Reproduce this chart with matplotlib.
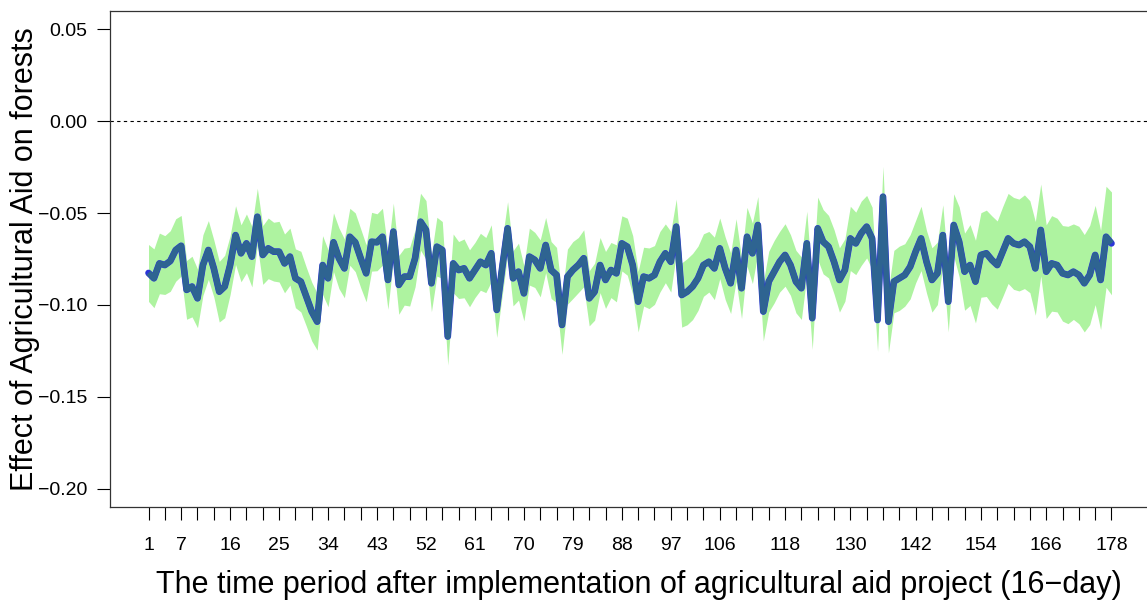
import matplotlib.pyplot as plt
import numpy as np

plt.rcParams['font.family'] = ['Liberation Sans', 'DejaVu Sans']

# 16-day periods after the project started
period = np.arange(1, 179)

# estimated effect
effect = [
    -0.0826, -0.0855, -0.0774, -0.0783, -0.0761, -0.0701, -0.0678, -0.0918, -0.0900, -0.0964,
    -0.0783, -0.0701, -0.0801, -0.0928, -0.0900, -0.0783, -0.0620, -0.0719, -0.0665, -0.0737,
    -0.0520, -0.0728, -0.0692, -0.0710, -0.0710, -0.0774, -0.0737, -0.0855, -0.0873, -0.0955,
    -0.1036, -0.1091, -0.0783, -0.0855, -0.0659, -0.0746, -0.0801, -0.0629, -0.0659, -0.0746,
    -0.0828, -0.0656, -0.0659, -0.0629, -0.0864, -0.0601, -0.0891, -0.0846, -0.0846, -0.0746,
    -0.0547, -0.0592, -0.0882, -0.0683, -0.0701, -0.1172, -0.0774, -0.0810, -0.0801, -0.0855,
    -0.0810, -0.0765, -0.0783, -0.0719, -0.1027, -0.0800, -0.0583, -0.0855, -0.0819, -0.0937,
    -0.0737, -0.0755, -0.0801, -0.0674, -0.0810, -0.0837, -0.1109, -0.0846, -0.0810, -0.0783,
    -0.0746, -0.0964, -0.0928, -0.0783, -0.0864, -0.0810, -0.0828, -0.0665, -0.0683, -0.0783,
    -0.0982, -0.0846, -0.0855, -0.0837, -0.0765, -0.0719, -0.0765, -0.0574, -0.0946, -0.0928,
    -0.0900, -0.0855, -0.0783, -0.0765, -0.0801, -0.0692, -0.0801, -0.0882, -0.0701, -0.0909,
    -0.0629, -0.0719, -0.0565, -0.1036, -0.0873, -0.0819, -0.0765, -0.0728, -0.0783, -0.0873,
    -0.0909, -0.0665, -0.1072, -0.0583, -0.0656, -0.0683, -0.0765, -0.0864, -0.0810, -0.0638,
    -0.0665, -0.0610, -0.0574, -0.0638, -0.1082, -0.0411, -0.1091, -0.0873, -0.0855, -0.0837,
    -0.0792, -0.0710, -0.0638, -0.0765, -0.0864, -0.0828, -0.0620, -0.0982, -0.0565, -0.0656,
    -0.0819, -0.0783, -0.0873, -0.0728, -0.0719, -0.0755, -0.0783, -0.0710, -0.0638, -0.0665,
    -0.0674, -0.0656, -0.0683, -0.0801, -0.0592, -0.0819, -0.0774, -0.0783, -0.0828, -0.0837,
    -0.0819, -0.0837, -0.0882, -0.0837, -0.0728, -0.0864, -0.0629, -0.0665,
]

# half width of the confidence band
half_ci = [
    0.0155, 0.0160, 0.0165, 0.0160, 0.0165, 0.0170, 0.0165, 0.0160, 0.0165, 0.0160,
    0.0165, 0.0160, 0.0155, 0.0165, 0.0170, 0.0160, 0.0160, 0.0155, 0.0160, 0.0165,
    0.0155, 0.0160, 0.0165, 0.0160, 0.0165, 0.0160, 0.0155, 0.0160, 0.0165, 0.0160,
    0.0160, 0.0155, 0.0160, 0.0155, 0.0160, 0.0165, 0.0160, 0.0155, 0.0160, 0.0160,
    0.0155, 0.0160, 0.0155, 0.0155, 0.0160, 0.0155, 0.0160, 0.0155, 0.0160, 0.0155,
    0.0155, 0.0160, 0.0155, 0.0160, 0.0155, 0.0155, 0.0160, 0.0155, 0.0160, 0.0155,
    0.0150, 0.0155, 0.0150, 0.0155, 0.0150, 0.0150, 0.0145, 0.0150, 0.0155, 0.0150,
    0.0155, 0.0150, 0.0155, 0.0150, 0.0155, 0.0150, 0.0160, 0.0150, 0.0155, 0.0150,
    0.0155, 0.0150, 0.0155, 0.0150, 0.0155, 0.0150, 0.0155, 0.0150, 0.0155, 0.0160,
    0.0165, 0.0160, 0.0165, 0.0160, 0.0165, 0.0160, 0.0165, 0.0150, 0.0175, 0.0180,
    0.0180, 0.0175, 0.0170, 0.0165, 0.0170, 0.0165, 0.0170, 0.0165, 0.0170, 0.0165,
    0.0160, 0.0165, 0.0155, 0.0160, 0.0165, 0.0170, 0.0165, 0.0170, 0.0165, 0.0170,
    0.0170, 0.0175, 0.0170, 0.0170, 0.0175, 0.0170, 0.0175, 0.0175, 0.0170, 0.0175,
    0.0170, 0.0175, 0.0170, 0.0170, 0.0170, 0.0165, 0.0170, 0.0170, 0.0175, 0.0170,
    0.0175, 0.0170, 0.0175, 0.0170, 0.0175, 0.0170, 0.0165, 0.0165, 0.0170, 0.0190,
    0.0210, 0.0220, 0.0225, 0.0230, 0.0235, 0.0240, 0.0240, 0.0245, 0.0245, 0.0250,
    0.0250, 0.0255, 0.0250, 0.0255, 0.0250, 0.0255, 0.0260, 0.0255, 0.0260, 0.0265,
    0.0260, 0.0265, 0.0265, 0.0270, 0.0270, 0.0270, 0.0275, 0.0280,
]

lower = np.array(effect) - np.array(half_ci)
upper = np.array(effect) + np.array(half_ci)

# x ticks every 3 periods, only some labelled (as R drops overlapping ones)
tick_pos = list(range(1, 179, 3))
labelled = [1, 7, 16, 25, 34, 43, 52, 61, 70, 79, 88, 97, 106, 118, 130, 142, 154, 166, 178]
tick_labels = [str(t) if t in labelled else '' for t in tick_pos]

y_ticks = [0.05, 0.00, -0.05, -0.10, -0.15, -0.20]
y_labels = ['0.05', '0.00', '\u22120.05', '\u22120.10', '\u22120.15', '\u22120.20']

fig = plt.figure(figsize=(11.47, 6.07), dpi=100)
ax = fig.add_axes([110 / 1147, 1 - 507 / 607, 1040 / 1147, 496 / 607])

ax.fill_between(period, lower, upper, color='#aef3a0', linewidth=0)
ax.plot(period, effect, color='#2b35d8', lw=4.8,
        solid_joinstyle='round', solid_capstyle='round')
ax.plot(period, effect, color='#2e6491', lw=4.2,
        solid_joinstyle='round', solid_capstyle='butt')
ax.axhline(0, color='black', lw=0.8, ls=(0, (3, 3)))

ax.set_xlim(-6.08, 185.08)
ax.set_ylim(-0.21, 0.06)
ax.set_xticks(tick_pos)
ax.set_xticklabels(tick_labels)
ax.set_yticks(y_ticks)
ax.set_yticklabels(y_labels)

ax.tick_params(axis='both', direction='out', length=9.4, width=0.8,
               labelsize=14, colors='black')
ax.tick_params(axis='x', pad=12)
ax.tick_params(axis='y', pad=7)
for s in ax.spines.values():
    s.set_linewidth(0.9)
    s.set_color('#333333')

fig.text(25 / 1147, 1 - 259 / 607, 'Effect of Agricultural Aid on forests',
         rotation=90, fontsize=22, ha='center', va='center')
fig.text(639 / 1147, 1 - 585 / 607,
         'The time period after implementation of agricultural aid project (16\u2212day)',
         fontsize=22, ha='center', va='center')

fig.savefig('out.png', dpi=100)
